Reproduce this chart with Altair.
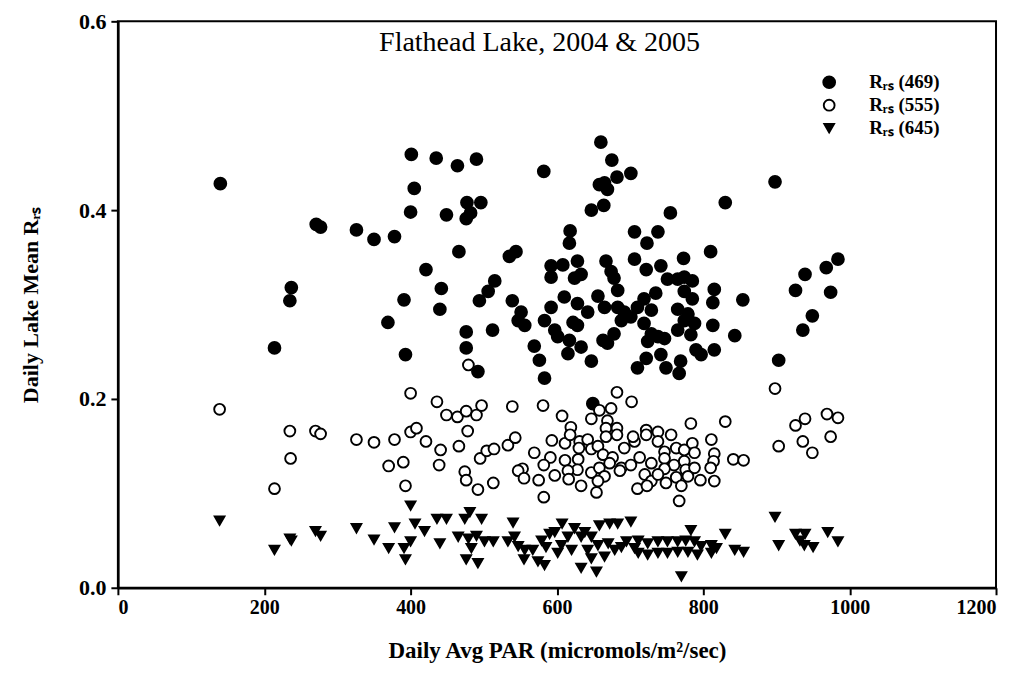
import altair as alt
import pandas as pd

# R_rs (469) - filled circles
x469 = [140, 401, 405, 400, 271, 277, 326, 350, 378, 237, 235, 391, 369, 214, 393,
        435, 464, 490, 582, 660, 675, 682, 701, 658, 669, 665, 647, 664, 477, 496,
        482, 476, 449, 755, 618, 617, 706, 738, 723, 466, 535, 544, 810, 421, 592,
        608, 628, 592, 633, 624, 667, 674, 678, 706, 722, 742, 773, 751, 774, 785,
        765, 442, 515, 506, 494, 440, 683, 735, 815, 774, 785, 813, 610, 656, 628,
        665, 642, 592, 583, 539, 551, 547, 556, 683, 692, 688, 701, 710, 719, 729,
        476, 512, 476, 597, 601, 622, 628, 617, 633, 615, 663, 678, 669, 719, 729,
        738, 747, 724, 765, 779, 788, 765, 783, 774, 813, 815, 569, 576, 583, 647,
        722, 710, 742, 769, 749, 767, 790, 797, 492, 898, 830, 984, 968, 939, 926,
        974, 949, 936, 903, 854, 843, 649]
y469 = [.428, .459, .423, .398, .385, .382, .379, .369, .372, .318, .304, .305, .281, .254, .247,
        .455, .447, .454, .441, .472, .453, .435, .439, .427, .422, .429, .400, .405, .408, .408,
        .397, .391, .395, .397, .378, .365, .377, .377, .365, .356, .351, .356, .356, .337, .341,
        .342, .346, .329, .332, .328, .346, .335, .328, .348, .337, .341, .349, .327, .329, .325,
        .327, .317, .325, .314, .304, .295, .315, .312, .316, .314, .306, .302, .308, .309, .301,
        .297, .292, .297, .283, .304, .292, .283, .278, .297, .292, .283, .287, .297, .306, .294,
        .271, .273, .254, .273, .266, .281, .278, .262, .255, .248, .262, .269, .259, .280, .269,
        .266, .264, .261, .295, .290, .280, .273, .268, .283, .278, .252, .256, .241, .222, .240,
        .243, .233, .247, .240, .233, .227, .252, .247, .229, .430, .408, .348, .339, .332, .315,
        .313, .288, .273, .241, .305, .267, .195]

# R_rs (555) - open circles
x555 = [139, 235, 270, 277, 236, 214, 326, 350, 378, 370, 390, 393, 400, 400, 408,
        436, 449, 464, 476, 490, 497, 478, 421, 441, 466, 439, 495, 504, 514, 533,
        543, 474, 476, 492, 513, 539, 581, 607, 569, 553, 547, 555, 575, 582, 591,
        582, 593, 611, 619, 618, 631, 642, 630, 647, 611, 629, 628, 615, 597, 616,
        633, 647, 658, 665, 656, 654, 647, 658, 674, 669, 667, 682, 682, 667, 656,
        663, 676, 692, 706, 704, 672, 688, 701, 686, 682, 702, 722, 738, 722, 756,
        738, 747, 763, 774, 785, 788, 713, 729, 747, 760, 747, 720, 729, 749, 738,
        774, 776, 788, 779, 763, 770, 796, 710, 723, 767, 783, 811, 815, 814, 810,
        815, 479, 898, 830, 841, 855, 903, 926, 939, 936, 949, 969, 984, 974]
y555 = [.189, .166, .166, .163, .137, .105, .157, .154, .157, .129, .133, .108, .206, .165, .169,
        .197, .183, .181, .187, .183, .193, .166, .155, .146, .150, .130, .137, .145, .147, .151,
        .159, .123, .114, .104, .111, .192, .193, .182, .143, .126, .124, .116, .114, .096, .138,
        .130, .156, .153, .170, .162, .155, .157, .148, .147, .135, .136, .125, .124, .119, .115,
        .108, .122, .127, .118, .113, .101, .179, .188, .190, .177, .169, .169, .162, .160, .150,
        .141, .138, .148, .155, .160, .132, .127, .130, .124, .207, .197, .167, .165, .162, .162,
        .155, .144, .148, .146, .153, .143, .138, .132, .137, .130, .126, .120, .113, .111, .120,
        .134, .125, .127, .118, .117, .108, .114, .105, .108, .092, .174, .157, .142, .134, .127,
        .113, .236, .211, .176, .136, .135, .150, .172, .179, .155, .143, .184, .180, .160]

# R_rs (645) - filled down triangles
x645 = [139, 214, 235, 237, 270, 277, 326, 350, 370, 378, 391, 393, 400, 400, 406,
        419, 436, 449, 440, 474, 481, 497, 465, 479, 490, 501, 513, 483, 476, 492,
        540, 542, 533, 547, 556, 567, 555, 574, 583, 579, 590, 597, 585, 607, 624,
        615, 633, 606, 620, 601, 638, 647, 658, 672, 683, 701, 642, 656, 670, 679,
        688, 695, 665, 647, 633, 654, 711, 724, 738, 751, 765, 776, 788, 797, 811,
        711, 724, 738, 751, 765, 779, 792, 811, 706, 770, 783, 818, 898, 830, 843,
        855, 903, 926, 939, 932, 950, 938, 970, 984]
y645 = [.071, .040, .052, .050, .060, .055, .063, .051, .042, .064, .042, .030, .087, .049, .068,
        .060, .073, .073, .047, .073, .080, .073, .054, .052, .055, .049, .049, .042, .030, .026,
        .069, .054, .049, .044, .040, .040, .030, .028, .024, .050, .057, .059, .043, .068, .063,
        .054, .054, .045, .040, .037, .059, .054, .066, .068, .068, .070, .040, .045, .047, .040,
        .043, .049, .033, .031, .021, .017, .050, .047, .049, .049, .049, .050, .049, .044, .045,
        .037, .035, .037, .037, .038, .038, .035, .037, .042, .012, .061, .042, .075, .057, .040,
        .038, .045, .057, .057, .050, .043, .045, .059, .049]

labels = ["Rᵣₛ (469)", "Rᵣₛ (555)", "Rᵣₛ (645)"]
x_ticks = [0, 200, 400, 600, 800, 1000, 1200]
y_ticks = [0.0, 0.2, 0.4, 0.6]
chart_title = "Flathead Lake, 2004 & 2005"

rows = []
for lab, xs, ys in zip(labels, [x469, x555, x645], [y469, y555, y645]):
    for a, b in zip(xs, ys):
        rows.append({"par": a, "rrs": b, "series": lab})
df = pd.DataFrame(rows)
legend_df = pd.DataFrame({"series": labels})
title_df = pd.DataFrame({"t": [chart_title]})

FONT = "Liberation Serif"

fill_enc = alt.Fill("series:N", scale=alt.Scale(domain=labels, range=["black", "white", "black"]), legend=None)
shape_enc = alt.Shape("series:N", scale=alt.Scale(domain=labels, range=["circle", "circle", "triangle-down"]), legend=None)
size_enc = alt.Size("series:N", scale=alt.Scale(domain=labels, range=[140, 95, 130]), legend=None)

points = alt.Chart(df).mark_point(filled=True, stroke="black", strokeWidth=1.9, opacity=1).encode(
    x=alt.X("par:Q", scale=alt.Scale(domain=[0, 1200], nice=False),
            axis=alt.Axis(values=x_ticks, format="d", title="Daily Avg PAR (micromols/m²/sec)",
                          labelFontSize=20, labelPadding=3, titlePadding=22, titleFontSize=23)),
    y=alt.Y("rrs:Q", scale=alt.Scale(domain=[0, 0.6], nice=False),
            axis=alt.Axis(values=y_ticks, format=".1f", title="Daily Lake Mean Rᵣₛ",
                          labelFontSize=22, labelPadding=5, titlePadding=36, titleFontSize=22)),
    fill=fill_enc, shape=shape_enc, size=size_enc,
)

legend_y = alt.Y("series:N", scale=alt.Scale(domain=labels, range=[61, 107], padding=0), axis=None)

legend_sym = alt.Chart(legend_df).mark_point(filled=True, stroke="black", strokeWidth=1.9, opacity=1).encode(
    x=alt.value(712), y=legend_y, fill=fill_enc, shape=shape_enc, size=size_enc,
)
legend_txt = alt.Chart(legend_df).mark_text(
    font=FONT, fontSize=19, fontWeight="bold", align="left", baseline="middle", color="black"
).encode(x=alt.value(752), y=legend_y, text="series:N")

title = alt.Chart(title_df).mark_text(font=FONT, fontSize=28, color="black").encode(
    x=alt.value(422), y=alt.value(22), text="t:N"
)

chart = alt.layer(points, legend_sym, legend_txt, title).resolve_scale(
    y="independent"
).properties(
    width=879, height=567,
    padding={"left": 110, "top": 13, "right": 20, "bottom": 90},
    autosize="none",
).configure_view(stroke="black", strokeWidth=2).configure_axis(
    grid=False, domainColor="black", domainWidth=2.5, tickColor="black", tickWidth=2,
    tickSize=7, labelFont=FONT, labelFontWeight="bold", labelColor="black",
    titleFont=FONT, titleFontWeight="bold", titleColor="black",
)

chart.save("out.html", embed_options={"renderer": "svg", "actions": False})
